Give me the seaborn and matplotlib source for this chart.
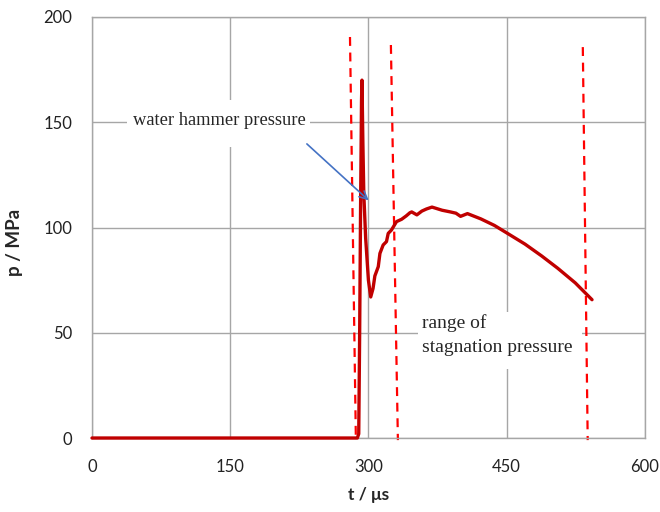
import numpy as np
import pandas as pd
import matplotlib
matplotlib.use("Agg")
import matplotlib.pyplot as plt
from matplotlib.patches import Rectangle
import seaborn as sns

# pressure trace
t_us = [0, 150, 288, 289.5, 290.5, 291.5, 292.5, 293, 294, 295, 297, 300, 302.5,
        305, 307, 310.7, 312.5, 316, 319.6, 321.5, 325, 330.5, 336, 341, 345,
        347, 352.6, 358, 363, 369, 380, 389, 395, 400, 407.5, 422, 436.7, 451,
        470, 488, 505.6, 524.5, 542.7]
p_mpa = [0, 0, 0, 2, 50, 110, 160, 170, 140, 116, 95, 75, 67,
         71, 77, 81.4, 87.7, 91.7, 93.3, 97.2, 98.8, 102.8, 103.9, 105.5, 107,
         107.4, 106, 107.8, 108.8, 109.7, 108.2, 107.4, 106.8, 105.3, 106.6, 104.1, 101, 97.2,
         92.1, 86.5, 80.6, 73.7, 65.7]

# dashed marker lines (top / bottom ends)
mark_top_t = [280, 324.4, 532.7]
mark_bot_t = [286.4, 332, 538]
mark_top_p = [190.5, 186.7, 185.7]
mark_bot_p = [-1, -1, -1]

x_ticks = [0, 150, 300, 450, 600]
y_ticks = [0, 50, 100, 150, 200]

df = pd.DataFrame({"t": t_us, "p": p_mpa})

sns.set_style("white")
plt.rcParams['font.family'] = ['Lato', 'DejaVu Sans']

fig = plt.figure(figsize=(6.6, 5.12), dpi=100)
ax = fig.add_axes([0.1394, 0.1445, 0.8376, 0.8223])

ax.grid(True, color="#a6a6a6", linewidth=1.0)
ax.set_axisbelow(True)

# white label boxes hide the grid behind the text (like the Excel text boxes)
ax.add_patch(Rectangle((38, 138.2), 198.5, 22.4, facecolor="white",
                       edgecolor="none", zorder=1.5))
ax.add_patch(Rectangle((353.7, 32.8), 177.9, 27.1, facecolor="white",
                       edgecolor="none", zorder=1.5))

for i in range(len(mark_top_t)):
    ax.plot([mark_top_t[i], mark_bot_t[i]], [mark_top_p[i], mark_bot_p[i]],
            color="#ff0000", linestyle=(0, (4, 3)), linewidth=1.6, clip_on=False,
            zorder=2)

sns.lineplot(data=df, x="t", y="p", ax=ax, color="#c00000", linewidth=2.4,
             clip_on=False, zorder=3)

ax.set_xlim(0, 600)
ax.set_ylim(0, 200)
ax.set_xticks(x_ticks)
ax.set_yticks(y_ticks)
ax.tick_params(axis="both", length=0, labelsize=12, colors="#222222")
ax.tick_params(axis="y", pad=14)
ax.tick_params(axis="x", pad=15)

for s in ["left", "right", "bottom", "top"]:
    ax.spines[s].set_color("#a6a6a6")
    ax.spines[s].set_linewidth(1.0)

ax.set_xlabel("t / μs", fontsize=12.5, fontweight="bold")
ax.set_ylabel("p / MPa", fontsize=13.5, fontweight="bold")
ax.xaxis.label.set_va("center")
ax.yaxis.label.set_va("center")
ax.xaxis.set_label_coords(0.5, -0.135)
ax.yaxis.set_label_coords(-0.141, 0.465)

serif = ['Liberation Serif', 'DejaVu Serif']
ax.annotate("", xy=(302.5, 112), xytext=(231, 140.6),
            arrowprops=dict(arrowstyle="->", color="#4472c4", lw=1.2,
                            mutation_scale=14), zorder=4)
ax.text(44.5, 151, "water hammer pressure", family=serif, fontsize=13.3,
        va="center", ha="left", zorder=4)
ax.text(358, 54.6, "range of", family=serif, fontsize=14, va="center",
        ha="left", zorder=4)
ax.text(358, 42.8, "stagnation pressure", family=serif, fontsize=14,
        va="center", ha="left", zorder=4)

fig.savefig("out.png", dpi=100)
